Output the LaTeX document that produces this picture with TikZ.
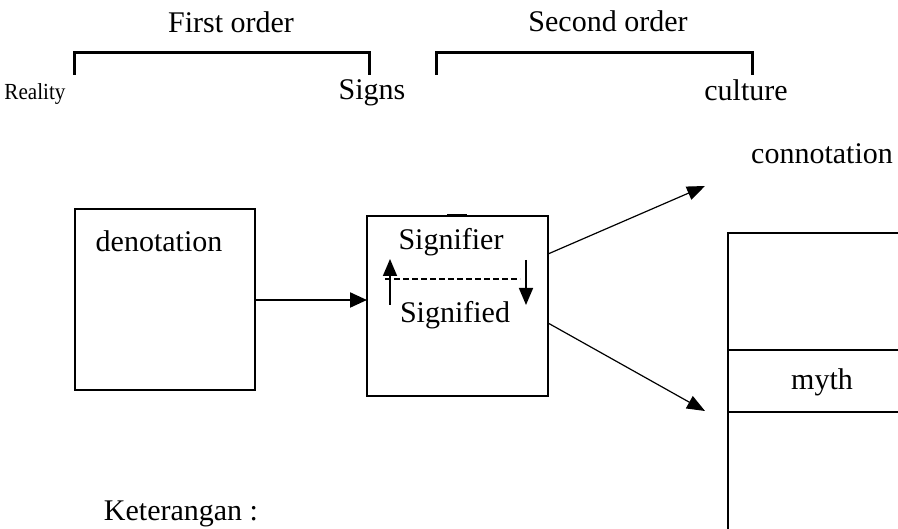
\documentclass[tikz,border=0pt]{standalone}
\usepackage{fontspec}
\setmainfont{Liberation Serif}
\usetikzlibrary{arrows.meta}
\begin{document}
\begin{tikzpicture}[x=1pt,y=-1pt,
  txt/.style={font=\fontsize{30}{30}\selectfont, anchor=base, inner sep=0pt},
  small/.style={font=\fontsize{23}{23}\selectfont, anchor=base, inner sep=0pt, xscale=0.92},
  bracket/.style={line width=3pt},
  boxline/.style={line width=1.5pt},
  conn/.style={line width=1.2pt, -{Triangle[length=18pt,width=14pt]}},
  mainarrow/.style={line width=2.2pt, -{Triangle[length=17pt,width=15pt]}},
  smallarrow/.style={line width=1.6pt, -{Triangle[length=17pt,width=14pt]}}]
\useasboundingbox (0,0) rectangle (898,529);
% header texts
\node[txt] (first) at (231,33) {First order};
\node[txt] (second) at (608,32) {Second order};
\node[small] (reality) at (35,100) {Reality};
\node[txt] (signs) at (372,100) {Signs};
\node[txt] (culture) at (746,101) {culture};
% brackets
\draw[bracket] (74,75) -- (74,53) -- (369,53) -- (369,75);
\draw[bracket] (436,75) -- (436,53) -- (752,53) -- (752,75);
% denotation box
\draw[boxline] (75,209) rectangle (255,390);
\coordinate (denR) at (255,300);
\node[txt] (deno) at (159,252) {denotation};
% signs box
\draw[boxline] (367,216) rectangle (548,396);
\draw[line width=2.5pt] (447,215) -- (467,215);
\coordinate (sigL) at (367,300);
\coordinate (sigUR) at (548,254);
\coordinate (sigLR) at (548,323);
\node[txt] (signifier) at (451,250) {Signifier};
\node[txt] (signified) at (455,323) {Signified};
\draw[line width=2pt, dash pattern=on 6pt off 3pt] (385,279) -- (520,279);
\coordinate (upA) at (390,305);
\coordinate (upB) at (390,259);
\coordinate (dnA) at (526,260);
\coordinate (dnB) at (526,305);
\draw[smallarrow] (upA) -- (upB);
\draw[smallarrow] (dnA) -- (dnB);
% arrows
\draw[mainarrow] (denR) -- (sigL);
\coordinate (connT) at (705,186);
\coordinate (mythT) at (705,411);
\draw[conn] (sigUR) -- (connT);
\draw[conn] (sigLR) -- (mythT);
\node[txt] (connotation) at (822,164) {connotation};
% right table
\draw[boxline] (898,233) -- (728,233) -- (728,529);
\draw[line width=2pt] (728,350) -- (898,350);
\draw[line width=2pt] (728,412) -- (898,412);
\draw[line width=2pt] (728,350) -- (728,412);
\node[txt] (myth) at (822,390) {myth};
% legend
\node[txt] (ket) at (181,521) {Keterangan :};
\end{tikzpicture}
\end{document}
